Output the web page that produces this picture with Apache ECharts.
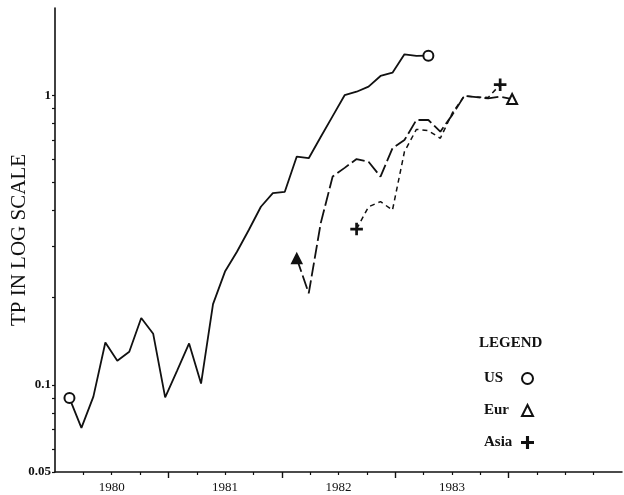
<!DOCTYPE html>
<html><head><meta charset="utf-8">
<script src="https://cdn.jsdelivr.net/npm/echarts@6/dist/echarts.min.js"></script>
<style>html,body{margin:0;padding:0;background:#fff}#c{width:624px;height:495px}</style>
</head><body><div id="c"></div>
<script>
// x axis in years; the series are sampled at a fixed step along it
const axisMinYear = 1979.5;
const axisMaxYear = 1984.5;
const yearLabels = [1980, 1981, 1982, 1983];
const quarterTicks = [1979.75, 1980, 1980.25, 1980.75, 1981, 1981.25, 1981.75, 1982, 1982.25,
  1982.75, 1983, 1983.25, 1983.75, 1984, 1984.25];
const midYearTicks = [1980.5, 1981.5, 1982.5, 1983.5];
const yLabels = [0.05, 0.1, 1];
const yTicks = [0.05, 0.06, 0.07, 0.08, 0.09, 0.1, 0.2, 0.3, 0.4, 0.5, 0.6, 0.7, 0.8, 0.9, 1];

const sampleOriginYear = 1979.522;
const sampleStepYears = 0.1055;

const usStartIndex = 1;
const usValues = [0.090, 0.071, 0.091, 0.140, 0.121, 0.130, 0.170, 0.150, 0.0905, 0.112, 0.139, 0.101,
  0.190, 0.246, 0.288, 0.343, 0.412, 0.459, 0.464, 0.614, 0.606, 0.717, 0.847, 1.00, 1.028, 1.070,
  1.165, 1.196, 1.384, 1.366, 1.369];
const eurStartIndex = 20;
const eurValues = [0.273, 0.207, 0.361, 0.524, 0.561, 0.602, 0.589, 0.523, 0.656, 0.700, 0.821, 0.821,
  0.748, 0.855, 0.994, 0.984, 0.975, 0.988, 0.970];
const asiaStartIndex = 25;
const asiaValues = [0.345, 0.412, 0.429, 0.401, 0.638, 0.762, 0.754, 0.710, 0.868, 0.994, 0.986, 0.982, 1.087];

const INK = '#111';
const FONT = '"Liberation Serif", "DejaVu Serif", serif';
const plusPath = 'path://M4.5,0h1v10h-1zM0,4.5h10v1h-10z';

function build(startIndex, values, firstSym, lastSym, size) {
  return values.map((v, i) => {
    const item = { value: [sampleOriginYear + (startIndex + i) * sampleStepYears, v] };
    if (i === 0) { item.symbol = firstSym; item.symbolSize = size; }
    else if (i === values.length - 1) { item.symbol = lastSym; item.symbolSize = size; }
    return item;
  });
}

const chart = echarts.init(document.getElementById('c'), null, { renderer: 'canvas' });
const commonSeries = {
  type: 'line', symbol: 'none', showSymbol: true, silent: true, animation: false,
  itemStyle: { color: INK, borderColor: INK, borderWidth: 1.6 }
};
chart.setOption({
  backgroundColor: '#fff',
  animation: false,
  grid: { left: 55, top: 8, width: 567, height: 464, containLabel: false, outerBoundsMode: 'none' },
  xAxis: [{
    type: 'value', min: axisMinYear, max: axisMaxYear,
    axisLine: { show: true, lineStyle: { color: INK, width: 1.5 } },
    axisTick: { show: true, length: 3, lineStyle: { color: INK, width: 1.2 }, customValues: quarterTicks },
    axisLabel: { customValues: yearLabels, formatter: v => String(Math.round(v)), color: INK,
      fontFamily: FONT, fontSize: 13, margin: 9 },
    splitLine: { show: false }
  }, {
    type: 'value', min: axisMinYear, max: axisMaxYear, position: 'bottom',
    axisLine: { show: false },
    axisTick: { show: true, length: 6, lineStyle: { color: INK, width: 1.4 }, customValues: midYearTicks },
    axisLabel: { show: false }, splitLine: { show: false }
  }],
  yAxis: {
    type: 'log', logBase: 10, min: 0.05, max: 2,
    name: 'TP IN LOG SCALE', nameLocation: 'middle', nameRotate: 90, nameGap: 25,
    nameMoveOverlap: false,
    nameTextStyle: { color: INK, fontFamily: FONT, fontSize: 21 },
    axisLine: { show: true, lineStyle: { color: INK, width: 1.6 } },
    axisTick: { show: true, length: 3, lineStyle: { color: INK, width: 1.2 }, customValues: yTicks },
    axisLabel: { customValues: yLabels, formatter: v => (v >= 1 ? '1' : String(v)), color: INK,
      fontFamily: FONT, fontSize: 13, fontWeight: 'bold', margin: 4 },
    splitLine: { show: false }, minorTick: { show: false }
  },
  legend: {
    orient: 'vertical', left: 479, top: 366, align: 'right', itemGap: 17,
    itemWidth: 11, itemHeight: 11, selectedMode: false,
    formatter: name => '{t|' + name + '}',
    textStyle: { color: INK, fontFamily: FONT, fontSize: 15, fontWeight: 'bold',
      rich: { t: { width: 33, align: 'left', color: INK, fontFamily: FONT, fontSize: 15, fontWeight: 'bold' } } },
    data: [
      { name: 'US', icon: 'emptyCircle' },
      { name: 'Eur', icon: 'emptyTriangle' },
      { name: 'Asia', icon: plusPath }
    ]
  },
  graphic: [{
    type: 'text', left: 479, top: 336,
    style: { text: 'LEGEND', fill: INK, font: 'bold 15px ' + FONT }
  }],
  series: [
    Object.assign({}, commonSeries, { name: 'US', data: build(usStartIndex, usValues, 'emptyCircle', 'emptyCircle', 10),
      lineStyle: { color: INK, width: 1.8, type: 'solid' } }),
    Object.assign({}, commonSeries, { name: 'Eur', data: build(eurStartIndex, eurValues, 'triangle', 'emptyTriangle', 10),
      lineStyle: { color: INK, width: 1.8, type: [14, 4] } }),
    Object.assign({}, commonSeries, { name: 'Asia', data: build(asiaStartIndex, asiaValues, plusPath, plusPath, 11),
      lineStyle: { color: INK, width: 1.5, type: [5, 4] } })
  ]
});
</script>
</body></html>
